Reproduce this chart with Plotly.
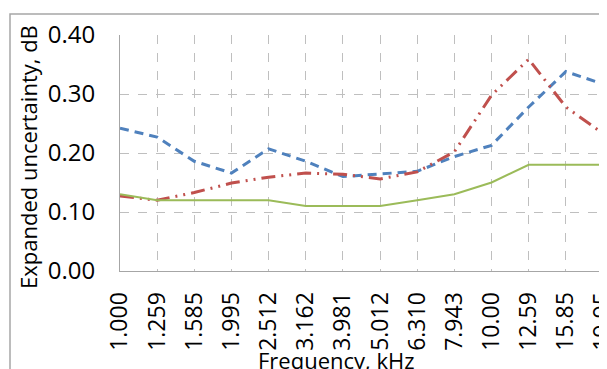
import plotly.graph_objects as go

freqs = ["1.000", "1.259", "1.585", "1.995", "2.512", "3.162", "3.981", "5.012",
         "6.310", "7.943", "10.00", "12.59", "15.85", "19.95"]
blue_vals = [0.242, 0.227, 0.186, 0.166, 0.207, 0.186, 0.160, 0.164,
             0.169, 0.194, 0.213, 0.278, 0.338, 0.317]
red_vals = [0.127, 0.120, 0.133, 0.149, 0.159, 0.166, 0.164, 0.156,
            0.168, 0.202, 0.298, 0.359, 0.278, 0.233]
green_vals = [0.13, 0.12, 0.12, 0.12, 0.12, 0.11, 0.11, 0.11,
              0.12, 0.13, 0.15, 0.18, 0.18, 0.18]
y_ticks = [0.0, 0.1, 0.2, 0.3, 0.4]
y_ticktext = ["0.00", "0.10", "0.20", "0.30", "0.40"]

# page body has an 8px default margin; lay out in window pixels
OFF = 8
W, H = 607 - OFF, 369 - OFF
PL, PR, PT, PB = 120, 603, 35, 271  # plot area in window pixels
L, R, T, B = PL - OFF, (W + OFF) - PR, PT - OFF, (H + OFF) - PB
pw, ph = PR - PL, PB - PT

def px(x):
    return (x - PL) / pw

def py(y):
    return (PB - y) / ph

fig = go.Figure()
fig.add_trace(go.Scatter(x=freqs, y=blue_vals, mode="lines",
                         line=dict(color="#4F81BD", width=3, dash="9px,6px"),
                         cliponaxis=False))
fig.add_trace(go.Scatter(x=freqs, y=red_vals, mode="lines",
                         line=dict(color="#C0504D", width=3, dash="14px,6px,2px,6px,2px,6px"),
                         cliponaxis=False))
fig.add_trace(go.Scatter(x=freqs, y=green_vals, mode="lines",
                         line=dict(color="#9BBB59", width=2),
                         cliponaxis=False))

font_name = "Open Sans"
fig.update_layout(
    width=W, height=H,
    margin=dict(l=L, r=R, t=T, b=B, autoexpand=False),
    paper_bgcolor="white", plot_bgcolor="white",
    showlegend=False,
    font=dict(family=font_name, size=22, color="#000000"),
    xaxis=dict(
        type="category", range=[0, len(freqs) - 1], automargin=False,
        showgrid=True, gridcolor="#BFBFBF", griddash="dash", gridwidth=1,
        showline=True, linecolor="#A6A6A6", linewidth=1,
        tickangle=-90, ticks="", ticklabelstandoff=11,
        tickfont=dict(family=font_name, size=23),
        zeroline=False,
    ),
    yaxis=dict(
        range=[0, 0.4], tickvals=y_ticks, ticktext=y_ticktext, automargin=False,
        showgrid=True, gridcolor="#BFBFBF", griddash="dash", gridwidth=1,
        showline=True, linecolor="#A6A6A6", linewidth=1,
        ticks="", ticklabelstandoff=19,
        tickfont=dict(family=font_name, size=24),
        zeroline=False,
    ),
    shapes=[dict(type="rect", xref="paper", yref="paper",
                 x0=px(10), x1=px(650), y0=py(14), y1=py(400),
                 line=dict(color="#A6A6A6", width=1.5), layer="below")],
    annotations=[
        dict(text="Frequency, kHz", xref="paper", yref="paper",
             x=px(336), y=py(360), showarrow=False,
             font=dict(family=font_name, size=22), xanchor="center", yanchor="middle"),
        dict(text="Expanded uncertainty, dB", xref="paper", yref="paper",
             x=px(28), y=py(157), showarrow=False, textangle=-90,
             font=dict(family=font_name, size=22), xanchor="center", yanchor="middle"),
    ],
)
fig.write_html("out.html")
